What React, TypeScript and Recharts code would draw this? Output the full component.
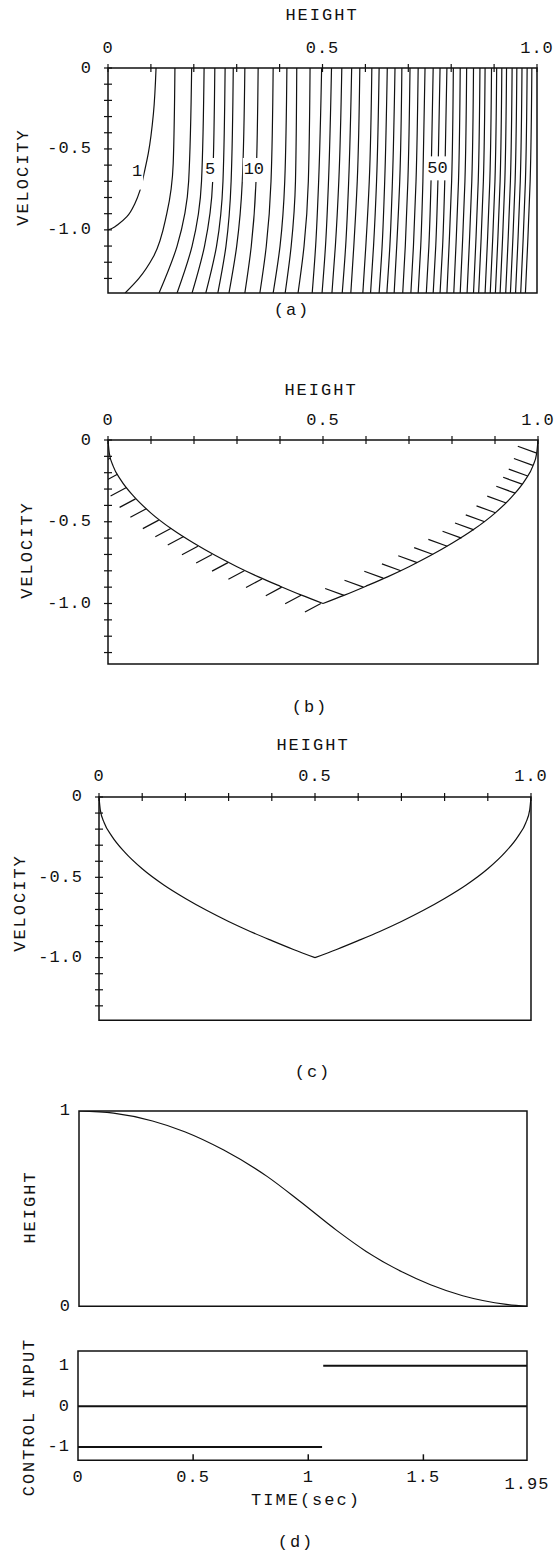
import React from "react";
import {ComposedChart, Line, XAxis, YAxis, ReferenceArea, ReferenceLine, ReferenceDot} from "recharts";

const FONT = '"Liberation Mono", "DejaVu Sans Mono", monospace';
const INK = "#111";
const PAGE_W = 556;

// ---- panel (a): contour lines of the cost over (height, velocity) ----
const contourV = [0, -0.7, -1.1, -1.39];
const contourTop = [0.195, 0.224, 0.249, 0.273, 0.292, 0.319, 0.35, 0.385, 0.417, 0.44, 0.471, 0.498, 0.521, 0.545, 0.568, 0.587, 0.615, 0.632, 0.651, 0.669, 0.685, 0.704, 0.723, 0.739, 0.758, 0.774, 0.79, 0.805, 0.821, 0.836, 0.852, 0.867, 0.879, 0.894, 0.906, 0.918, 0.929, 0.942, 0.953, 0.965, 0.977, 0.988];
const contourMid = [0.188, 0.218, 0.244, 0.268, 0.287, 0.313, 0.345, 0.38, 0.412, 0.437, 0.467, 0.491, 0.514, 0.538, 0.561, 0.581, 0.609, 0.626, 0.645, 0.663, 0.68, 0.699, 0.718, 0.734, 0.753, 0.769, 0.785, 0.801, 0.817, 0.832, 0.848, 0.863, 0.875, 0.89, 0.902, 0.914, 0.925, 0.938, 0.949, 0.961, 0.973, 0.984];
const contourLow = [0.161, 0.196, 0.225, 0.253, 0.275, 0.3, 0.334, 0.369, 0.401, 0.427, 0.457, 0.484, 0.507, 0.53, 0.554, 0.573, 0.601, 0.619, 0.639, 0.657, 0.673, 0.693, 0.712, 0.729, 0.748, 0.764, 0.78, 0.795, 0.811, 0.826, 0.842, 0.857, 0.869, 0.884, 0.896, 0.908, 0.919, 0.932, 0.943, 0.955, 0.967, 0.978];
const contourBottom = [0.119, 0.161, 0.196, 0.228, 0.256, 0.282, 0.319, 0.354, 0.385, 0.413, 0.443, 0.476, 0.499, 0.522, 0.546, 0.566, 0.594, 0.612, 0.632, 0.65, 0.667, 0.687, 0.706, 0.723, 0.742, 0.758, 0.774, 0.79, 0.806, 0.821, 0.837, 0.852, 0.864, 0.879, 0.891, 0.903, 0.914, 0.927, 0.938, 0.95, 0.962, 0.973];
// the first two contours bend strongly and are read point by point
const contour1H = [0.112, 0.106, 0.094, 0.085, 0.075, 0.063, 0.044, 0.024, 0.01, 0];
const contour1V = [0, -0.278, -0.526, -0.64, -0.753, -0.835, -0.918, -0.965, -0.99, -1.0];
const contour2H = [0.156, 0.152, 0.137, 0.106, 0.072, 0.04];
const contour2V = [0, -0.59, -0.9, -1.165, -1.3, -1.39];
const contourLabels = ["1", "5", "10", "50"];
const contourLabelH = [0.068, 0.238, 0.34, 0.768];
const contourLabelV = [-0.64, -0.63, -0.63, -0.62];

// ---- panels (b), (c): switching curve, two branches meeting at (0.5, -1) ----
const leftBranchH = [0, 0.003, 0.012, 0.03, 0.06, 0.1, 0.15, 0.2, 0.25, 0.3, 0.35, 0.4, 0.45, 0.5];
const leftBranchV = [0, -0.08, -0.16, -0.245, -0.345, -0.447, -0.548, -0.632, -0.707, -0.775, -0.837, -0.894, -0.949, -1.0];
const rightBranchH = [0.5, 0.55, 0.6, 0.65, 0.7, 0.75, 0.8, 0.85, 0.9, 0.94, 0.97, 0.988, 0.997, 1];
const rightBranchV = [-1.0, -0.949, -0.894, -0.837, -0.775, -0.707, -0.632, -0.548, -0.447, -0.345, -0.245, -0.16, -0.08, 0];
const hatchLeftH = [0.006, 0.022, 0.043, 0.064, 0.089, 0.118, 0.147, 0.176, 0.209, 0.242, 0.279, 0.317, 0.358, 0.404, 0.449, 0.495];
const hatchLeftV = [-0.11, -0.21, -0.29, -0.36, -0.42, -0.49, -0.54, -0.59, -0.65, -0.7, -0.75, -0.8, -0.85, -0.9, -0.95, -1.0];
const hatchRightH = [0.549, 0.594, 0.64, 0.681, 0.719, 0.756, 0.789, 0.822, 0.851, 0.876, 0.901, 0.926, 0.947, 0.963, 0.976, 0.988, 0.997];
const hatchRightV = [-0.95, -0.9, -0.845, -0.8, -0.75, -0.7, -0.65, -0.6, -0.55, -0.5, -0.445, -0.385, -0.325, -0.27, -0.22, -0.155, -0.08];

// ---- panel (d): time responses ----
const timeT = [0, 0.15, 0.32, 0.46, 0.63, 0.82, 0.96, 1.12, 1.25, 1.41, 1.53, 1.67, 1.86, 1.95];
const heightT = [1, 0.989, 0.949, 0.894, 0.8, 0.664, 0.539, 0.39, 0.281, 0.174, 0.11, 0.054, 0.01, 0];
const switchTime = 1.06;
const finalTime = 1.95;

const hTicks = [0, 0.1, 0.2, 0.3, 0.4, 0.5, 0.6, 0.7, 0.8, 0.9, 1.0];
const hTickLabelAt = [0, 0.5, 1];
const hTickLabels = ["0", "0.5", "1.0"];
const vTicks = [0, -0.1, -0.2, -0.3, -0.4, -0.5, -0.6, -0.7, -0.8, -0.9, -1.0, -1.1, -1.2, -1.3];
const vTickLabelAt = [0, -0.5, -1];
const vTickLabels = ["0", "-0.5", "-1.0"];
const tTicks = [0, 0.5, 1, 1.5, 1.95];
const tTickLabels = ["0", "0.5", "1", "1.5", "1.95"];

type Pt = {h: number; v: number | null};

const labelStyle: React.CSSProperties = {fontFamily: FONT, fontSize: 17, letterSpacing: 1, fill: INK};

const findLabel = (at: number[], value: number) => at.findIndex((a) => Math.abs(a - value) < 1e-6);

const topCrossTick = (p: any) => {
    const i = findLabel(hTickLabelAt, p.payload.value);
    return (
        <g>
            <line x1={p.x} x2={p.x} y1={p.y - 4} y2={p.y + 4} stroke={INK} strokeWidth={1.2}/>
            {i >= 0 && (
                <text x={p.x} y={p.y - 20} textAnchor="middle" dominantBaseline="central" style={labelStyle}>
                    {hTickLabels[i]}
                </text>
            )}
        </g>
    );
};

const leftCrossTick = (p: any) => {
    const i = findLabel(vTickLabelAt, p.payload.value);
    return (
        <g>
            <line x1={p.x - 4} x2={p.x + 4} y1={p.y} y2={p.y} stroke={INK} strokeWidth={1.2}/>
            {i >= 0 && (
                <text x={p.x - 16} y={p.y} textAnchor="end" dominantBaseline="central" style={labelStyle}>
                    {vTickLabels[i]}
                </text>
            )}
        </g>
    );
};

const plainLeftTick = (labels: string[]) => (p: any) => (
    <text x={p.x - 8} y={p.y} textAnchor="end" dominantBaseline="central" style={labelStyle}>
        {labels[p.index]}
    </text>
);

const timeTick = (p: any) => {
    const v = p.payload.value;
    const inner = v > 0 && v < finalTime;
    const last = v === finalTime;
    return (
        <g>
            {inner && <line x1={p.x} x2={p.x} y1={p.y} y2={p.y - 6} stroke={INK} strokeWidth={1.5}/>}
            <text x={p.x} y={p.y + (last ? 24 : 17)} textAnchor="middle" dominantBaseline="central" style={labelStyle}>
                {tTickLabels[p.index]}
            </text>
        </g>
    );
};

const hatchData = (hs: number[], vs: number[], dh: number, dv: number): Pt[] =>
    hs.flatMap((h, i) => [
        {h, v: vs[i]},
        {h: h + dh, v: vs[i] + dv},
        {h: h + dh, v: null},
    ]);

const leftBranch: Pt[] = leftBranchH.map((h, i) => ({h, v: leftBranchV[i]}));
const rightBranch: Pt[] = rightBranchH.map((h, i) => ({h, v: rightBranchV[i]}));

const contourData: Pt[][] = [
    contour1H.map((h, i) => ({h, v: contour1V[i]})),
    contour2H.map((h, i) => ({h, v: contour2V[i]})),
    ...contourTop.map((_, i) =>
        contourV.map((v, j) => ({h: [contourTop, contourMid, contourLow, contourBottom][j][i], v}))
    ),
];

const Txt = ({x, y, children, vertical, spacing = 2}: {x: number; y: number; children: React.ReactNode; vertical?: boolean; spacing?: number}) => (
    <div
        style={{
            position: "absolute",
            left: x,
            top: y,
            transform: `translate(-50%, -50%)${vertical ? " rotate(-90deg)" : ""}`,
            fontFamily: FONT,
            fontSize: 17,
            letterSpacing: spacing,
            lineHeight: 1,
            whiteSpace: "nowrap",
            color: INK,
        }}
    >
        {children}
    </div>
);

type Frame = {l: number; r: number; t: number; b: number};

const PhaseChart = ({frame, yMin, children}: {frame: Frame; yMin: number; children: React.ReactNode}) => {
    const padTop = 40;
    const padBottom = 8;
    return (
        <div style={{position: "absolute", left: 0, top: frame.t - padTop}}>
            <ComposedChart
                width={PAGE_W}
                height={frame.b - frame.t + padTop + padBottom}
                margin={{top: padTop - 30, left: frame.l - 40, right: PAGE_W - frame.r, bottom: padBottom}}
            >
                <XAxis
                    orientation="top"
                    type="number"
                    dataKey="h"
                    domain={[0, 1]}
                    ticks={hTicks}
                    interval={0}
                    allowDataOverflow
                    height={30}
                    axisLine={false}
                    tickLine={false}
                    tickSize={0}
                    tickMargin={0}
                    tick={topCrossTick}
                />
                <YAxis
                    type="number"
                    dataKey="v"
                    domain={[yMin, 0]}
                    ticks={vTicks}
                    interval={0}
                    allowDataOverflow
                    width={40}
                    axisLine={false}
                    tickLine={false}
                    tickSize={0}
                    tickMargin={0}
                    tick={leftCrossTick}
                />
                <ReferenceArea x1={0} x2={1} y1={yMin} y2={0} fill="none" stroke={INK} strokeWidth={1.5}/>
                {children}
            </ComposedChart>
        </div>
    );
};

const lineProps = {
    dataKey: "v",
    stroke: INK,
    strokeWidth: 1.2,
    dot: false,
    activeDot: false,
    isAnimationActive: false,
    connectNulls: false,
};

const frameA: Frame = {l: 108, r: 537, t: 68.3, b: 293.3};
const frameB: Frame = {l: 108, r: 538, t: 440, b: 664};
const frameC: Frame = {l: 99, r: 531, t: 796.7, b: 1020};
const frameD1: Frame = {l: 79, r: 527, t: 1110.7, b: 1306};
const frameD2: Frame = {l: 78, r: 527, t: 1350.7, b: 1460};

const ContourLabel = ({text}: {text: string}) => (p: any) => {
    const w = text.length * 10 + 2;
    const hgt = text === "1" ? 36 : 24;
    return (
        <g>
            <rect x={p.cx - w / 2} y={p.cy - hgt / 2} width={w} height={hgt} fill="#fff"/>
            <text x={p.cx} y={p.cy} textAnchor="middle" dominantBaseline="central" style={{...labelStyle, letterSpacing: 0}}>
                {text}
            </text>
        </g>
    );
};

const SwitchCurve = () => (
    <>
        <Line {...lineProps} data={leftBranch} type="monotoneX"/>
        <Line {...lineProps} data={rightBranch} type="monotoneX"/>
    </>
);

export default function App() {
    return (
        <div style={{position: "absolute", left: 0, top: 0, width: PAGE_W, height: 1552, background: "#fff"}}>
            {/* (a) */}
            <Txt x={322} y={15}>HEIGHT</Txt>
            <Txt x={23} y={177} vertical>VELOCITY</Txt>
            <Txt x={292} y={310}>(a)</Txt>
            <PhaseChart frame={frameA} yMin={-1.39}>
                {contourData.map((d, i) => (
                    <Line key={`c${i}`} {...lineProps} data={d} type="monotoneY"/>
                ))}
                {contourLabels.map((t, i) => (
                    <ReferenceDot
                        key={`l${i}`}
                        x={contourLabelH[i]}
                        y={contourLabelV[i]}
                        r={0}
                        shape={ContourLabel({text: t})}
                    />
                ))}
            </PhaseChart>

            {/* (b) */}
            <Txt x={321} y={390}>HEIGHT</Txt>
            <Txt x={27} y={550} vertical>VELOCITY</Txt>
            <Txt x={310} y={707}>(b)</Txt>
            <PhaseChart frame={frameB} yMin={-1.37}>
                <Line {...lineProps} data={leftBranch} type="monotoneX"/>
                <Line {...lineProps} data={rightBranch} type="monotoneX"/>
                <Line {...lineProps} data={hatchData(hatchLeftH, hatchLeftV, -0.037, -0.052)} type="linear"/>
                <Line {...lineProps} data={hatchData(hatchRightH, hatchRightV, -0.044, 0.042)} type="linear"/>
            </PhaseChart>

            {/* (c) */}
            <Txt x={313} y={745}>HEIGHT</Txt>
            <Txt x={20} y={903} vertical>VELOCITY</Txt>
            <Txt x={313} y={1072}>(c)</Txt>
            <PhaseChart frame={frameC} yMin={-1.39}>
                <Line {...lineProps} data={leftBranch} type="monotoneX"/>
                <Line {...lineProps} data={rightBranch} type="monotoneX"/>
            </PhaseChart>

            {/* (d) upper: height vs time */}
            <Txt x={30} y={1207} vertical>HEIGHT</Txt>
            <div style={{position: "absolute", left: 0, top: frameD1.t - 10}}>
                <ComposedChart
                    width={PAGE_W}
                    height={frameD1.b - frameD1.t + 20}
                    margin={{top: 10, left: frameD1.l - 40, right: PAGE_W - frameD1.r, bottom: 10}}
                    data={timeT.map((t, i) => ({t, h: heightT[i]}))}
                >
                    <XAxis type="number" dataKey="t" domain={[0, finalTime]} allowDataOverflow hide height={0}/>
                    <YAxis
                        type="number"
                        domain={[0, 1]}
                        ticks={[0, 1]}
                        interval={0}
                        allowDataOverflow
                        width={40}
                        axisLine={false}
                        tickLine={false}
                        tickSize={0}
                        tickMargin={0}
                        tick={plainLeftTick(["0", "1"])}
                    />
                    <ReferenceArea x1={0} x2={finalTime} y1={0} y2={1} fill="none" stroke={INK} strokeWidth={1.5}/>
                    <Line dataKey="h" type="monotone" stroke={INK} strokeWidth={1.2} dot={false} activeDot={false} isAnimationActive={false}/>
                </ComposedChart>
            </div>

            {/* (d) lower: control input vs time */}
            <Txt x={28.5} y={1417} vertical>CONTROL INPUT</Txt>
            <div style={{position: "absolute", left: 0, top: frameD2.t - 10}}>
                <ComposedChart
                    width={PAGE_W}
                    height={frameD2.b - frameD2.t + 60}
                    margin={{top: 10, left: frameD2.l - 40, right: PAGE_W - frameD2.r, bottom: 20}}
                >
                    <XAxis
                        type="number"
                        dataKey="t"
                        domain={[0, finalTime]}
                        ticks={tTicks}
                        interval={0}
                        allowDataOverflow
                        height={30}
                        axisLine={false}
                        tickLine={false}
                        tickSize={0}
                        tickMargin={0}
                        tick={timeTick}
                    />
                    <YAxis
                        type="number"
                        dataKey="u"
                        domain={[-1.33, 1.36]}
                        ticks={[-1, 0, 1]}
                        interval={0}
                        allowDataOverflow
                        width={40}
                        axisLine={false}
                        tickLine={false}
                        tickSize={0}
                        tickMargin={0}
                        tick={plainLeftTick(["-1", "0", "1"])}
                    />
                    <ReferenceArea x1={0} x2={finalTime} y1={-1.33} y2={1.36} fill="none" stroke={INK} strokeWidth={1.5}/>
                    <ReferenceLine y={0} stroke={INK} strokeWidth={2}/>
                    <Line
                        data={[{t: 0, u: -1}, {t: switchTime, u: -1}]}
                        dataKey="u"
                        type="linear"
                        stroke={INK}
                        strokeWidth={2}
                        dot={false}
                        activeDot={false}
                        isAnimationActive={false}
                    />
                    <Line
                        data={[{t: switchTime + 0.005, u: 1}, {t: finalTime, u: 1}]}
                        dataKey="u"
                        type="linear"
                        stroke={INK}
                        strokeWidth={2}
                        dot={false}
                        activeDot={false}
                        isAnimationActive={false}
                    />
                </ComposedChart>
            </div>
            <Txt x={306} y={1500}>TIME(sec)</Txt>
            <Txt x={296} y={1542}>(d)</Txt>
        </div>
    );
}
